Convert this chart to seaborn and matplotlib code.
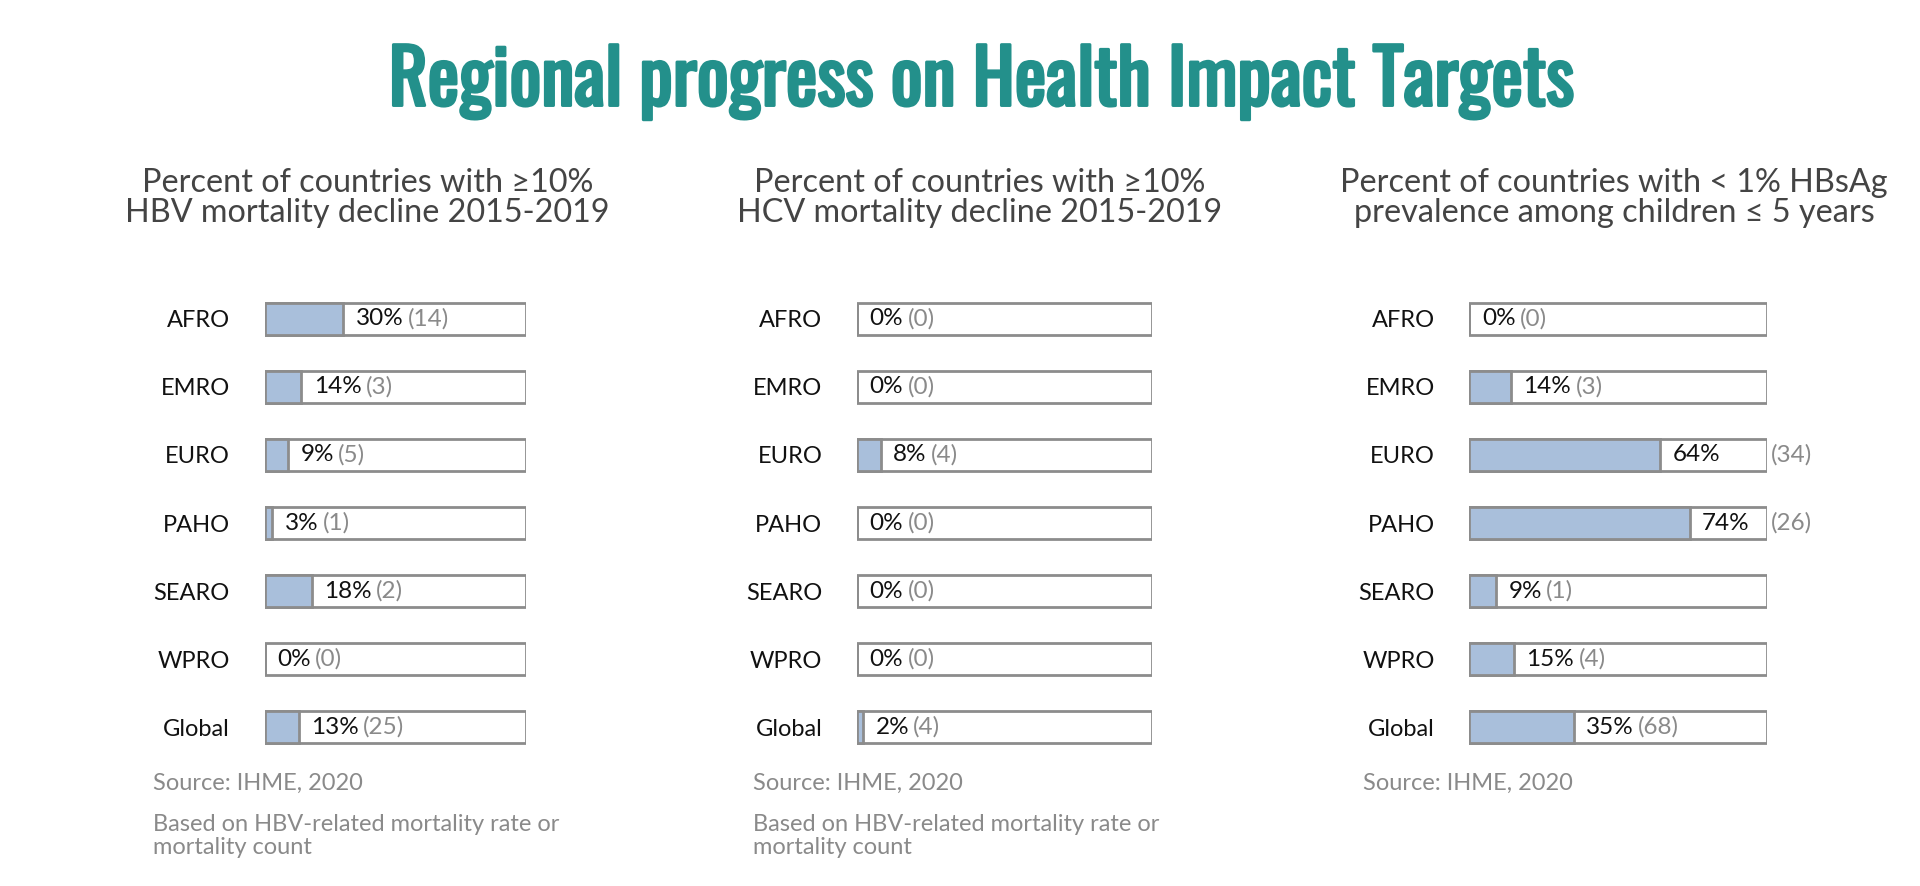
import seaborn as sns
import pandas as pd
import matplotlib.pyplot as plt
import matplotlib.patheffects as pe
import numpy as np

regions = ['AFRO', 'EMRO', 'EURO', 'PAHO', 'SEARO', 'WPRO', 'Global']
hbv_pct = [30, 14, 9, 3, 18, 0, 13]
hbv_n = [14, 3, 5, 1, 2, 0, 25]
hcv_pct = [0, 0, 8, 0, 0, 0, 2]
hcv_n = [0, 0, 4, 0, 0, 0, 4]
hbsag_pct = [0, 14, 64, 74, 9, 15, 35]
hbsag_n = [0, 3, 34, 26, 1, 4, 68]

titles = ['Percent of countries with \u226510%\nHBV mortality decline 2015-2019',
          'Percent of countries with \u226510%\nHCV mortality decline 2015-2019',
          'Percent of countries with < 1% HBsAg\nprevalence among children \u2264 5 years']
notes = ['Based on HBV-related mortality rate or\nmortality count',
         'Based on HBV-related mortality rate or\nmortality count',
         None]

sns.set_theme(style='white')
plt.rcParams['font.family'] = ['Lato', 'DejaVu Sans']

teal = '#23908b'
fill = '#a9bfdb'
edge = '#8c8c8c'
grey = '#8a8a8a'

fig = plt.figure(figsize=(19.2, 8.86), dpi=100)
fig.patch.set_facecolor('white')

# Oswald has only one weight here, so a thin stroke thickens it
fig.text(0.511, 0.881, 'Regional progress on Health Impact Targets',
         ha='center', va='baseline', color=teal, fontsize=54,
         family=['Oswald', 'DejaVu Sans'],
         path_effects=[pe.withStroke(linewidth=2.2, foreground=teal)])

# box positions (figure fraction)
boxes = [(0.1378, 0.2742), (0.4464, 0.6001), (0.7653, 0.9203)]
sub_x = [0.1913, 0.510, 0.8406]
src_x = [0.0797, 0.392, 0.7098]
panels = [(hbv_pct, hbv_n), (hcv_pct, hcv_n), (hbsag_pct, hbsag_n)]

for i, (pcts, counts) in enumerate(panels):
    x0, x1 = boxes[i]
    ax = fig.add_axes([x0, 0.1408, x1 - x0, 0.6786 - 0.1408])
    df = pd.DataFrame({'region': regions, 'pct': pcts})
    ax.barh(np.arange(len(regions)), 100, height=0.47, color='white',
            edgecolor=edge, linewidth=2, zorder=1)
    sns.barplot(data=df, x='pct', y='region', ax=ax, color=fill,
                width=0.47, edgecolor=edge, linewidth=2, saturation=1, zorder=2)
    ax.set_xlim(0, 100)
    ax.set_ylim(6.5, -0.5)
    ax.set_xlabel('')
    ax.set_ylabel('')
    ax.set_xticks([])
    for s in ax.spines.values():
        s.set_visible(False)
    ax.tick_params(axis='y', length=0, pad=25, labelsize=17, labelcolor='#111111')
    ax.patch.set_alpha(0)

    for j, (p, n) in enumerate(zip(pcts, counts)):
        t = ax.annotate(f'{p}%', xy=(p, j), xytext=(9, 0), textcoords='offset points',
                        ha='left', va='center', fontsize=17.5, color='#111111')
        if p > 50:
            ax.annotate(f'({n})', xy=(100, j), xytext=(3, 0), textcoords='offset points',
                        ha='left', va='center', fontsize=17.5, color=grey)
        else:
            ax.annotate(f'({n})', xy=(1, 0.5), xycoords=t, xytext=(3, 0),
                        textcoords='offset points', ha='left', va='center',
                        fontsize=17.5, color=grey)

    fig.text(sub_x[i], 0.777, titles[i], ha='center', va='center', fontsize=23.3,
             color='#444444', linespacing=1.0)
    fig.text(src_x[i], 0.1162, 'Source: IHME, 2020', ha='left', va='center',
             fontsize=17, color=grey)
    if notes[i]:
        fig.text(src_x[i], 0.0812, notes[i], ha='left', va='top',
                 fontsize=17, color=grey, linespacing=1.1)

fig.savefig('out.png', dpi=100, facecolor='white')
